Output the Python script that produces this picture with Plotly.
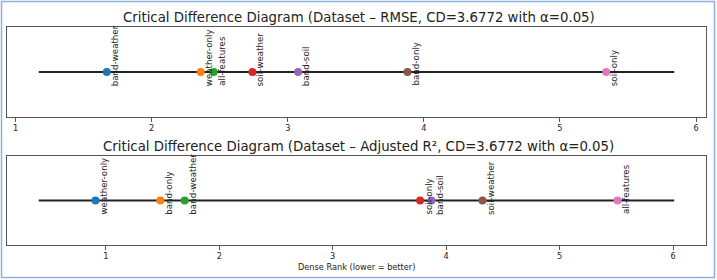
import plotly.graph_objects as go

# ---- data ----
rmse_models = ["band-weather", "weather-only", "all-features", "soil-weather",
               "band-soil", "band-only", "soil-only"]
rmse_ranks = [1.67, 2.36, 2.456, 2.74, 3.076, 3.88, 5.34]

r2_models = ["weather-only", "band-only", "band-weather", "soil-only",
             "band-soil", "soil-weather", "all-features"]
r2_ranks = [0.909, 1.48, 1.695, 3.77, 3.87, 4.32, 5.51]

tick_vals = [1, 2, 3, 4, 5, 6]
titles = ["Critical Difference Diagram (Dataset – RMSE, CD=3.6772 with α=0.05)",
          "Critical Difference Diagram (Dataset – Adjusted R², CD=3.6772 with α=0.05)"]
xlabel = "Dense Rank (lower = better)"

colors = ["#1f77b4", "#ff7f0e", "#2ca02c", "#d62728", "#9467bd", "#8c564b", "#e377c2"]

W, H = 717, 280
fig = go.Figure()

panels = [(rmse_models, rmse_ranks, "x", "y", 27, 117),
          (r2_models, r2_ranks, "x2", "y2", 156, 245)]

layout = dict(
    width=W, height=H, margin=dict(l=0, r=0, t=0, b=0),
    paper_bgcolor="white", plot_bgcolor="white", showlegend=False,
    font=dict(family="DejaVu Sans", color="#222"),
)
annotations = []
for i, (models, ranks, xa, ya, top, bot) in enumerate(panels):
    lo, hi = min(ranks) - 0.5, max(ranks) + 0.5
    pad = 0.05 * (hi - lo)
    # baseline
    fig.add_trace(go.Scatter(x=[lo, hi], y=[0, 0], mode="lines",
                             line=dict(color="#222", width=2.2),
                             xaxis=xa, yaxis=ya, hoverinfo="skip"))
    # points
    for j, (m, r) in enumerate(zip(models, ranks)):
        fig.add_trace(go.Scatter(x=[r], y=[0], mode="markers",
                                 marker=dict(color=colors[j], size=8),
                                 xaxis=xa, yaxis=ya, name=m))
        annotations.append(dict(x=r, y=0, xref=xa, yref=ya, text=m,
                                textangle=-90, showarrow=False,
                                xanchor="left", yanchor="bottom",
                                xshift=1, yshift=-16,
                                font=dict(size=8.7, color="#222",
                                          family="DejaVu Sans")))
    suffix = "" if i == 0 else "2"
    ax = dict(range=[lo - pad, hi + pad], domain=[7 / W, 706 / W],
              showline=True, mirror=True, linecolor="#555", linewidth=1,
              ticks="outside", ticklen=3.5, tickcolor="#555", tickwidth=1,
              tickvals=tick_vals, showgrid=False, zeroline=False,
              tickfont=dict(size=8.2, color="#222", family="DejaVu Sans"),
              automargin=False, fixedrange=True)
    if i == 1:
        ax["anchor"] = "y2"
    layout["xaxis" + suffix] = ax
    ay = dict(range=[-1, 1], domain=[1 - bot / H, 1 - top / H],
              showline=True, mirror=True, linecolor="#555", linewidth=1,
              showticklabels=False, ticks="", showgrid=False, zeroline=False,
              automargin=False, fixedrange=True)
    if i == 1:
        ay["anchor"] = "x2"
    layout["yaxis" + suffix] = ay
    annotations.append(dict(x=0.5, y=1 - (top - 10) / H, xref="paper", yref="paper",
                            text=titles[i], showarrow=False, xanchor="center",
                            yanchor="middle",
                            font=dict(size=13.3, color="#222", family="DejaVu Sans")))

annotations.append(dict(x=356.5 / W, y=1 - 267 / H, xref="paper", yref="paper",
                        text=xlabel, showarrow=False, xanchor="center", yanchor="middle",
                        font=dict(size=8.2, color="#222", family="DejaVu Sans")))
layout["annotations"] = annotations
layout["shapes"] = [dict(type="rect", xref="paper", yref="paper",
                         x0=1.5 / W, x1=714.5 / W, y0=1 - 277.5 / H, y1=1 - 1.5 / H,
                         line=dict(color="#8fb0dc", width=1.5), layer="above")]
fig.update_layout(**layout)
fig.write_html("out.html")
